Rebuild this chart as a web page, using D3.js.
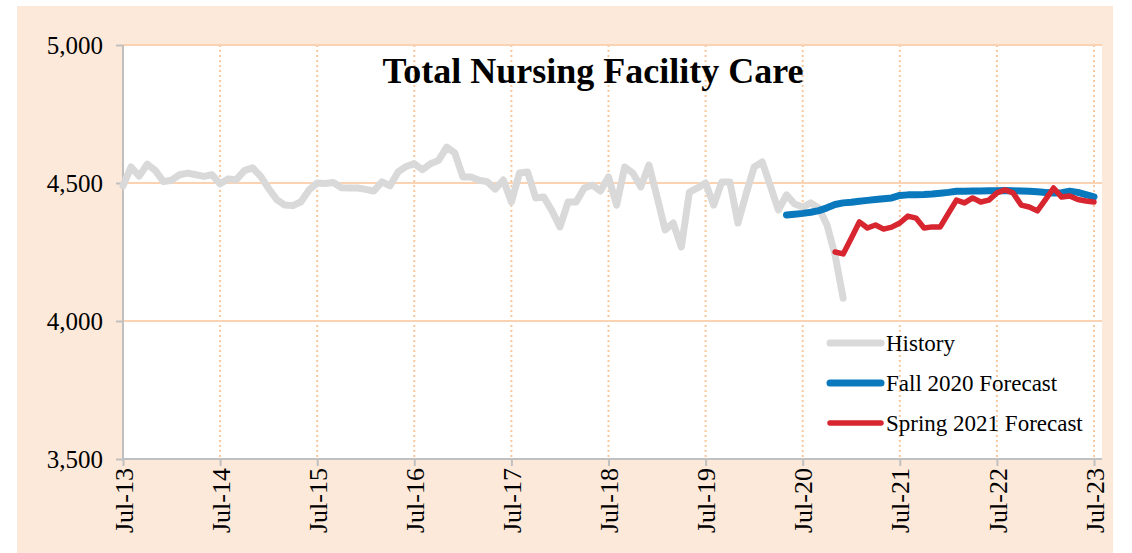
<!DOCTYPE html>
<html><head><meta charset="utf-8">
<script src="https://cdn.jsdelivr.net/npm/d3@7"></script>
<style>html,body{margin:0;padding:0;background:#fff}svg{display:block}text{font-family:"Liberation Serif","Times New Roman",serif;fill:#000}</style>
</head><body>
<script>
const title = "Total Nursing Facility Care";
const xTickLabels = ["Jul-13","Jul-14","Jul-15","Jul-16","Jul-17","Jul-18","Jul-19","Jul-20","Jul-21","Jul-22","Jul-23"];
const yTicks = [3500, 4000, 4500, 5000];
// month index 0 = Jul-13
const historyStart = 0;
const historyValues = [4490,4558,4525,4568,4545,4505,4510,4530,4536,4530,4524,4530,
4497,4515,4512,4545,4555,4525,4480,4440,4420,4418,4432,4475,
4500,4498,4502,4483,4482,4482,4477,4471,4504,4490,4540,4560,
4570,4548,4570,4582,4630,4609,4522,4522,4510,4505,4478,4511,
4431,4536,4540,4446,4449,4400,4341,4431,4431,4482,4493,4471,
4522,4420,4558,4536,4486,4565,4450,4330,4355,4268,4467,4482,
4500,4420,4504,4504,4355,4460,4558,4576,4490,4402,4457,4424,
4413,4428,4409,4348,4239,4083];
const fallStart = 82;
const fallValues = [4384,4387,4390,4394,4400,4410,4422,4428,4430,4434,4437,4440,4443,4446,
4455,4457,4457,4458,4460,4463,4466,4470,4470,4471,4471,4472,4472,4473,4472,4471,4470,4468,
4466,4464,4465,4470,4466,4458,4450];
const springStart = 88;
const springValues = [4250,4243,4300,4359,4337,4348,4333,4340,4355,4380,4373,4337,4341,4341,
4390,4438,4428,4446,4431,4438,4464,4475,4464,4420,4413,4399,4440,4482,4449,4453,4440,4435,4431];
const seriesNames = ["History","Fall 2020 Forecast","Spring 2021 Forecast"];
const seriesColors = ["#d9d9d9","#0a78bd","#d7262f"];

const W = 1132, H = 553;
const svg = d3.select("body").append("svg").attr("width", W).attr("height", H);
svg.append("rect").attr("x",17).attr("y",6).attr("width",1096).attr("height",H-6).attr("fill","#fde9d9");

const x = d3.scaleLinear().domain([0,120]).range([123,1094]);
const y = d3.scaleLinear().domain([3500,5000]).range([459,45]);
const plotRight = 1102;

svg.append("rect").attr("x",x(0)).attr("y",y(5000)).attr("width",plotRight-x(0)).attr("height",y(3500)-y(5000)).attr("fill","#fff");

const xTickVals = xTickLabels.map((d,i)=>i*12);
// vertical dotted grid
svg.append("g").selectAll("line").data(xTickVals.slice(1)).join("line")
  .attr("x1",d=>x(d)).attr("x2",d=>x(d)).attr("y1",y(5000)).attr("y2",y(3500))
  .attr("stroke","#f9c79c").attr("stroke-width",2).attr("stroke-dasharray","2,3");
// horizontal grid
svg.append("g").selectAll("line").data(yTicks.filter(d=>d>3500)).join("line")
  .attr("x1",x(0)).attr("x2",plotRight).attr("y1",d=>y(d)).attr("y2",d=>y(d))
  .attr("stroke","#fbd3b3").attr("stroke-width",2);

// axes
const axisColor = "#c0c0c0";
const yAxis = svg.append("g").attr("transform",`translate(${x(0)},0)`)
  .call(d3.axisLeft(y).tickValues(yTicks).tickSize(7).tickPadding(13).tickFormat(d3.format(",")));
yAxis.select(".domain").attr("stroke",axisColor).attr("stroke-width",2).attr("d",`M0,${y(5000)}V${y(3500)}`);
yAxis.selectAll(".tick line").attr("stroke",axisColor).attr("stroke-width",2);
yAxis.selectAll(".tick text").attr("font-size",25).attr("font-family","Liberation Serif").attr("fill","#000").attr("dy","0.33em");

const xAxis = svg.append("g").attr("transform",`translate(0,${y(3500)})`)
  .call(d3.axisBottom(x).tickValues(xTickVals).tickSize(7).tickFormat((d,i)=>xTickLabels[i]));
xAxis.select(".domain").attr("stroke",axisColor).attr("stroke-width",2).attr("d",`M${x(0)},0H${plotRight}`);
xAxis.selectAll(".tick line").attr("stroke",axisColor).attr("stroke-width",2);
xAxis.selectAll(".tick text").attr("font-size",26).attr("font-family","Liberation Serif").attr("fill","#000")
  .attr("transform","rotate(-90)").attr("text-anchor","end").attr("x",-9).attr("y",0).attr("dy","0.35em");

const line = d3.line().x(d=>x(d[0])).y(d=>y(d[1]));
const toPts = (start, vals) => vals.map((v,i)=>[start+i, v]);
const series = [
  {pts: toPts(historyStart, historyValues), w: 7},
  {pts: toPts(fallStart, fallValues), w: 7},
  {pts: toPts(springStart, springValues), w: 5.5}
];
series.forEach((s,i)=>{
  svg.append("path").attr("d",line(s.pts)).attr("fill","none").attr("stroke",seriesColors[i])
    .attr("stroke-width",s.w).attr("stroke-linejoin","round").attr("stroke-linecap","round");
});

// title
svg.append("text").attr("x",593).attr("y",83).attr("text-anchor","middle").attr("font-size",36)
  .attr("font-weight","bold").text(title);

// legend
const lg = svg.append("g");
seriesNames.forEach((n,i)=>{
  const yy = 343 + i*40;
  lg.append("line").attr("x1",830).attr("x2",881).attr("y1",yy).attr("y2",yy)
    .attr("stroke",seriesColors[i]).attr("stroke-width",series[i].w).attr("stroke-linecap","round");
  lg.append("text").attr("x",886).attr("y",yy).attr("dy","0.33em").attr("font-size",23).text(n);
});
</script>
</body></html>
